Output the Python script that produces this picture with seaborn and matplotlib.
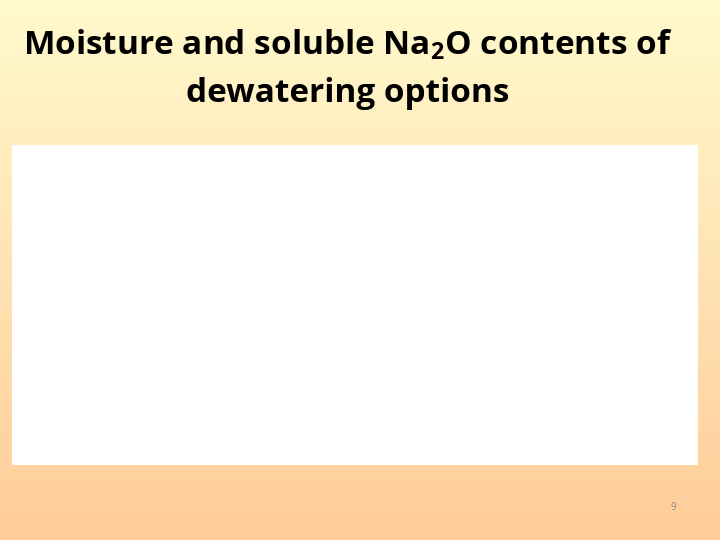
import numpy as np
import matplotlib.pyplot as plt
import seaborn as sns

# Slide text
TITLE_LINES = ["Moisture and soluble Na$_2$O contents of", "dewatering options"]
PAGE_NUMBER = "9"

# gradient end colours (top -> bottom)
TOP_COLOR = np.array([255, 250, 205]) / 255
BOTTOM_COLOR = np.array([255, 204, 153]) / 255

sns.set_theme(style="white")
plt.rcParams["font.family"] = ["Open Sans", "DejaVu Sans"]
plt.rcParams["mathtext.default"] = "regular"

fig = plt.figure(figsize=(7.2, 5.4), dpi=100)

# background gradient
bg = fig.add_axes([0, 0, 1, 1])
t = np.linspace(0, 1, 256)[:, None]
grad = TOP_COLOR[None, None, :] * (1 - t[..., None]) + BOTTOM_COLOR[None, None, :] * t[..., None]
grad = np.repeat(grad, 2, axis=1)
bg.imshow(grad, aspect="auto", extent=[0, 1, 0, 1])
bg.set_axis_off()

# empty white chart area
ax = fig.add_axes([12 / 720, 1 - 465 / 540, 686 / 720, 320 / 540])
ax.set_facecolor("white")
ax.set_xticks([])
ax.set_yticks([])
for s in ax.spines.values():
    s.set_visible(False)

# title
fig.text(0.483, 1 - 45 / 540, TITLE_LINES[0], ha="center", va="center",
         fontsize=24, fontweight="bold", color="black")
fig.text(0.483, 1 - 93 / 540, TITLE_LINES[1], ha="center", va="center",
         fontsize=24, fontweight="bold", color="black")

# page number
fig.text(673 / 720, 1 - 508 / 540, PAGE_NUMBER, ha="center", va="center",
         fontsize=7, color="#8c8c8c")

fig.savefig("out.png", dpi=100)
